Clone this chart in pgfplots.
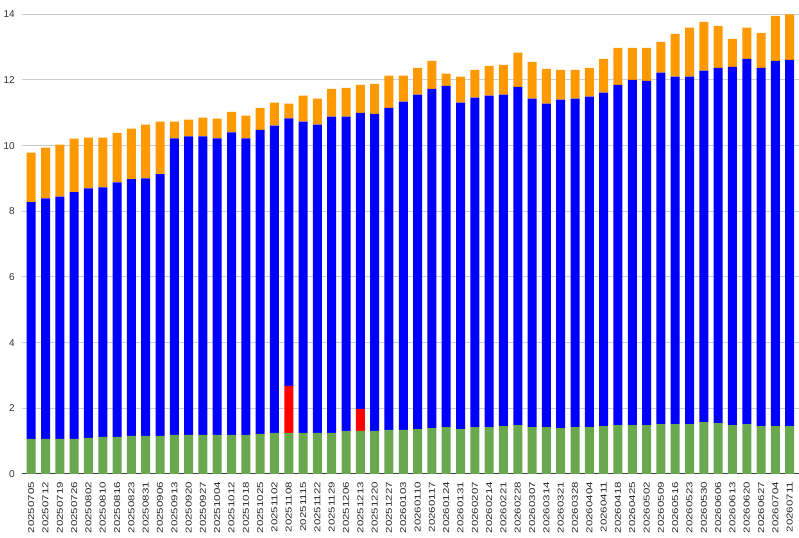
\documentclass[border=0pt]{standalone}
\usepackage{fontspec}
\setmainfont{Liberation Sans}
\usepackage{graphicx}
\usepackage{pgfplots}
\usepackage{pgfplotstable}
\pgfplotsset{compat=1.18}
\definecolor{cgreen}{HTML}{6AA84F}
\definecolor{cred}{HTML}{FF0000}
\definecolor{cblue}{HTML}{0000FF}
\definecolor{corange}{HTML}{FF9900}
\pgfplotstableread{
x g r b o
0 1.07 0 7.21 1.51
1 1.07 0 7.32 1.55
2 1.07 0 7.38 1.58
3 1.07 0 7.51 1.63
4 1.10 0 7.60 1.54
5 1.13 0 7.60 1.51
6 1.13 0 7.75 1.51
7 1.16 0 7.82 1.54
8 1.16 0 7.84 1.64
9 1.16 0 7.97 1.60
10 1.19 0 9.03 0.51
11 1.19 0 9.09 0.51
12 1.19 0 9.09 0.57
13 1.19 0 9.03 0.60
14 1.19 0 9.21 0.63
15 1.19 0 9.03 0.69
16 1.22 0 9.26 0.67
17 1.25 0 9.36 0.70
18 1.25 1.43 8.15 0.45
19 1.25 0 9.48 0.79
20 1.25 0 9.39 0.79
21 1.25 0 9.63 0.85
22 1.31 0 9.57 0.88
23 1.31 0.67 9.02 0.85
24 1.31 0 9.66 0.91
25 1.34 0 9.81 0.98
26 1.34 0 10.00 0.79
27 1.37 0 10.18 0.82
28 1.40 0 10.33 0.85
29 1.43 0 10.39 0.37
30 1.37 0 9.94 0.79
31 1.43 0 10.03 0.85
32 1.43 0 10.09 0.91
33 1.46 0 10.09 0.91
34 1.49 0 10.30 1.04
35 1.43 0 10.00 1.12
36 1.43 0 9.85 1.06
37 1.40 0 10.00 0.91
38 1.43 0 10.00 0.88
39 1.43 0 10.06 0.88
40 1.46 0 10.15 1.03
41 1.49 0 10.36 1.13
42 1.49 0 10.51 0.98
43 1.49 0 10.48 1.01
44 1.52 0 10.70 0.94
45 1.52 0 10.58 1.30
46 1.52 0 10.58 1.49
47 1.58 0 10.70 1.49
48 1.55 0 10.82 1.28
49 1.49 0 10.91 0.85
50 1.52 0 11.12 0.95
51 1.46 0 10.91 1.06
52 1.46 0 11.12 1.37
53 1.46 0 11.15 1.39
}\data
\newcommand{\xl}[1]{\scalebox{1.35}[1]{#1}}
\begin{document}
\begin{tikzpicture}
\begin{axis}[
 at={(0,0)}, anchor=south west,
 scale only axis, width=593.4pt, height=344.8pt,
 xmin=-0.643, xmax=54.643, ymin=0, ymax=14,
 ybar stacked, bar width=6.75pt,
 axis line style={draw=none},
 ytick={0,2,...,14},
 ymajorgrids, major grid style={draw=black!20, line width=0.75pt},
 major tick length=0pt,
 xtick={0,...,54},
 xticklabels={\xl{20250705},\xl{20250712},\xl{20250719},\xl{20250726},\xl{20250802},\xl{20250810},\xl{20250816},\xl{20250823},\xl{20250831},\xl{20250906},\xl{20250913},\xl{20250920},\xl{20250927},\xl{20251004},\xl{20251012},\xl{20251018},\xl{20251025},\xl{20251102},\xl{20251108},\xl{20251115},\xl{20251122},\xl{20251129},\xl{20251206},\xl{20251213},\xl{20251220},\xl{20251227},\xl{20260103},\xl{20260110},\xl{20260117},\xl{20260124},\xl{20260131},\xl{20260207},\xl{20260214},\xl{20260221},\xl{20260228},\xl{20260307},\xl{20260314},\xl{20260321},\xl{20260328},\xl{20260404},\xl{20260411},\xl{20260418},\xl{20260425},\xl{20260502},\xl{20260509},\xl{20260516},\xl{20260523},\xl{20260530},\xl{20260606},\xl{20260613},\xl{20260620},\xl{20260627},\xl{20260704},\xl{20260711},\xl{20260718}},
 xticklabel style={rotate=90, anchor=east, inner xsep=5.8pt, inner ysep=0pt, font=\fontsize{6.4pt}{7pt}\selectfont, text=black!85},
 yticklabel style={anchor=east, inner sep=0pt, xshift=-5.25pt, font=\fontsize{7.5pt}{9pt}\selectfont, text=black!80},
 /pgf/number format/assume math mode=true,
 extra y ticks={0}, extra y tick labels={},
 extra y tick style={major grid style={draw=black!75, line width=0.75pt}},
]
\addplot[fill=cgreen, draw=none] table[x=x,y=g]{\data};
\addplot[fill=cred, draw=none] table[x=x,y=r]{\data};
\addplot[fill=cblue, draw=none] table[x=x,y=b]{\data};
\addplot[fill=corange, draw=none] table[x=x,y=o]{\data};
\end{axis}
\pgfresetboundingbox
\useasboundingbox (-16.5pt,-48pt) rectangle (582.75pt,355.5pt);
\end{tikzpicture}
\end{document}
